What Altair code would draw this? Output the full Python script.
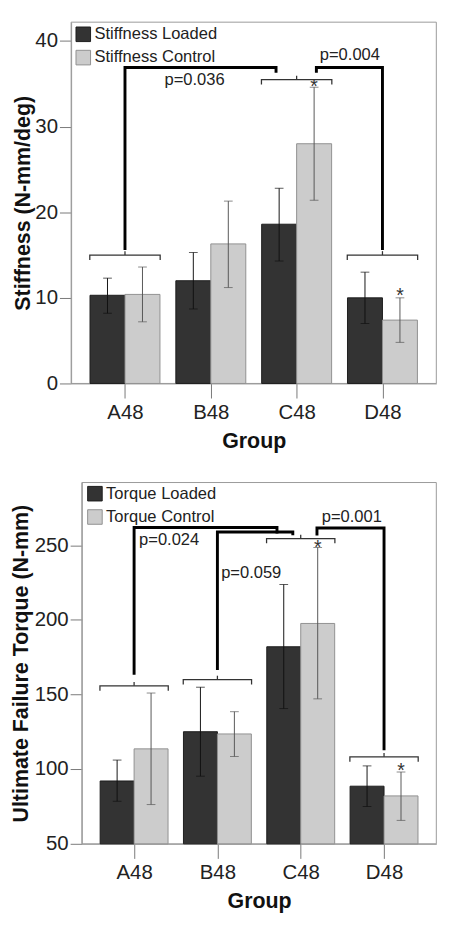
import altair as alt
import pandas as pd

groups = ["A48", "B48", "C48", "D48"]

# ---- Stiffness panel values ----
stiff_series = ["Stiffness Loaded", "Stiffness Control"]
stiff_loaded = [10.3, 12.0, 18.6, 10.0]
stiff_loaded_hi = [12.3, 15.3, 22.8, 13.0]
stiff_loaded_lo = [8.2, 8.7, 14.3, 7.0]
stiff_control = [10.4, 16.3, 28.0, 7.4]
stiff_control_hi = [13.6, 21.3, 34.6, 10.0]
stiff_control_lo = [7.2, 11.2, 21.4, 4.8]
stiff_yticks = [0, 10, 20, 30, 40]
stiff_ydomain = [0, 42.2]
# significance annotations (x in group-index units)
stiff_bracket_pos = [0, 2, 3]
stiff_bracket_y = [15.0, 35.5, 15.0]
stiff_link_from = [0, 3]
stiff_link_start = [15.6, 15.6]
stiff_link_top = [36.9, 36.9]
stiff_link_to = [1.76, 2.23]
stiff_link_end = [36.3, 36.3]
stiff_p_text = ["p=0.036", "p=0.004"]
stiff_p_x = [0.46, 2.27]
stiff_p_y = [35.4, 38.3]
stiff_star_pos = [2, 3]
stiff_star_y = [35.2, 10.8]

# ---- Torque panel values ----
torque_series = ["Torque Loaded", "Torque Control"]
torque_loaded = [92.1, 125.1, 182.0, 88.6]
torque_loaded_hi = [106.1, 154.9, 223.7, 102.2]
torque_loaded_lo = [78.5, 95.3, 140.6, 75.0]
torque_control = [113.6, 123.6, 197.6, 82.1]
torque_control_hi = [151.0, 138.5, 248.5, 98.1]
torque_control_lo = [76.3, 108.5, 147.1, 65.7]
torque_yticks = [50, 100, 150, 200, 250]
torque_ydomain = [50, 292]
torque_bracket_pos = [0, 1, 2, 3]
torque_bracket_y = [155.8, 160.0, 254.5, 108.3]
torque_link_from = [0, 1, 3]
torque_link_start = [163.3, 166.5, 112.6]
torque_link_top = [261.9, 258.9, 261.5]
torque_link_to = [1.715, 1.905, 2.195]
torque_link_end = [257.8, 256.7, 256.5]
torque_p_text = ["p=0.024", "p=0.059", "p=0.001"]
torque_p_x = [0.06, 1.045, 2.253]
torque_p_y = [253.5, 231.2, 268.9]
torque_star_pos = [2, 3]
torque_star_y = [251.3, 101.8]

# ---- layout / style ----
PI = 0.185          # gap between groups (fraction of step)
PO = 0.22           # outer padding (fraction of step)
BW = (1 - PI) / 2   # width of one bar (fraction of step)
HALF = 0.41         # half-width of significance brackets
FONT = "Liberation Sans"
FRAME = "#999999"
X_CENTER = PO + (1 - PI) / 2
X_TOTAL = len(groups) - PI + 2 * PO
X_DOMAIN = [-X_CENTER, X_TOTAL - X_CENTER]
label_expr = "[" + ",".join(f"'{g}'" for g in groups) + "][datum.value]"


def panel(series, loaded, lhi, llo, control, chi, clo, ydom, yticks, ytitle, ytitle_pad,
          br_pos, br_y, lk_from, lk_start, lk_top, lk_to, lk_end,
          p_text, p_x, p_y, star_pos, star_y, width, height, extend_left, leg_x, leg_y):
    rows = []
    for si, (s, vals, his, los) in enumerate([(series[0], loaded, lhi, llo),
                                              (series[1], control, chi, clo)]):
        for gi, (v, h, l) in enumerate(zip(vals, his, los)):
            left = gi - BW + si * BW
            rows.append(dict(series=s, value=v, hi=h, lo=l,
                             left=left, right=left + BW, mid=left + BW / 2))
    df = pd.DataFrame(rows)
    upp = (ydom[1] - ydom[0]) / height

    thin = []
    pid = 0
    for g, yb in zip(br_pos, br_y):
        pts = [(g - HALF, yb - 5 * upp), (g - HALF, yb), (g + HALF, yb), (g + HALF, yb - 5 * upp)]
        for k, (xx, yy) in enumerate(pts):
            thin.append(dict(id=pid, k=k, x=xx, y=yy))
        pid += 1
        for k, (xx, yy) in enumerate([(g, yb), (g, yb + 4 * upp)]):
            thin.append(dict(id=pid, k=k, x=xx, y=yy))
        pid += 1
    thin_df = pd.DataFrame(thin)

    thick = []
    for i, (f, s0, t, to, e) in enumerate(zip(lk_from, lk_start, lk_top, lk_to, lk_end)):
        for k, (xx, yy) in enumerate([(f, s0), (f, t), (to, t), (to, e)]):
            thick.append(dict(id=i, k=k, x=xx, y=yy))
    thick_df = pd.DataFrame(thick)

    ptext_df = pd.DataFrame(dict(x=p_x, y=p_y, t=p_text))
    star_df = pd.DataFrame(dict(x=[p + BW / 2 for p in star_pos], y=star_y))

    yscale = alt.Scale(domain=ydom, nice=False, zero=False)
    xscale = alt.Scale(domain=X_DOMAIN, nice=False, zero=False, range=[-extend_left, width])
    yaxis = alt.Axis(values=yticks, grid=False, tickSize=12, labelPadding=2, offset=extend_left,
                     labelFontSize=21, labelColor="#222", tickColor="#777",
                     domainColor=FRAME, titleFontSize=22, titleFontWeight="bold",
                     titleColor="#111", titlePadding=ytitle_pad)
    xaxis = alt.Axis(values=list(range(len(groups))), labelExpr=label_expr, grid=False,
                     tickSize=15, labelPadding=4, labelFontSize=21, labelColor="#222",
                     tickColor="#777", domainColor=FRAME, titleFontSize=22,
                     titleFontWeight="bold", titleColor="#111", titlePadding=9)

    def X(f, axis=None, title=None):
        return alt.X(f, scale=xscale, axis=axis, title=title)

    def Y(f, axis=None, title=None):
        return alt.Y(f, scale=yscale, axis=axis, title=title)

    leg = alt.Legend(title=None, orient="none", legendX=leg_x, legendY=leg_y, padding=0,
                     symbolType="square", symbolSize=225, symbolStrokeWidth=1,
                     labelFontSize=17, labelColor="#222", labelOffset=3,
                     rowPadding=5, labelFont=FONT)

    # plot frame spanning the full scale domains
    frame = alt.Chart(pd.DataFrame({"x0": [X_DOMAIN[0]], "x1": [X_DOMAIN[1]],
                                    "y0": [ydom[0]], "y1": [ydom[1]]})).mark_rect(
        filled=False, stroke=FRAME, strokeWidth=1).encode(
        x=X("x0:Q"), x2="x1:Q", y=Y("y0:Q"), y2="y1:Q")

    base = alt.Chart(df)
    bars = base.mark_bar(strokeWidth=1).encode(
        x=X("left:Q", xaxis, "Group"), x2="right:Q",
        y=Y("value:Q", yaxis, ytitle), y2=alt.datum(ydom[0]),
        fill=alt.Fill("series:N", scale=alt.Scale(domain=series, range=["#333333", "#cccccc"]), legend=leg),
        stroke=alt.Stroke("series:N", scale=alt.Scale(domain=series, range=["#1c1c1c", "#8f8f8f"]), legend=leg),
    )
    layers = [frame, bars]
    for s, col in [(series[0], "#111111"), (series[1], "#555555")]:
        sub = base.transform_filter(alt.datum.series == s)
        layers.append(sub.mark_rule(color=col, strokeWidth=1).encode(
            x=X("mid:Q"), y=Y("lo:Q"), y2="hi:Q"))
        for fld in ["lo", "hi"]:
            layers.append(sub.mark_tick(color=col, size=9, thickness=1, orient="horizontal").encode(
                x=X("mid:Q"), y=Y(f"{fld}:Q")))
    layers.append(alt.Chart(star_df).mark_text(text="*", fontSize=20, color="#333", dy=5, font=FONT).encode(
        x=X("x:Q"), y=Y("y:Q")))
    layers.append(alt.Chart(thin_df).mark_line(color="#333", strokeWidth=1.3).encode(
        x=X("x:Q"), y=Y("y:Q"), detail="id:N", order="k:Q"))
    layers.append(alt.Chart(thick_df).mark_line(color="#000", strokeWidth=3, strokeJoin="miter").encode(
        x=X("x:Q"), y=Y("y:Q"), detail="id:N", order="k:Q"))
    layers.append(alt.Chart(ptext_df).mark_text(align="left", baseline="middle", fontSize=17,
                                                color="#222", font=FONT).encode(
        x=X("x:Q"), y=Y("y:Q"), text="t:N"))
    return alt.layer(*layers).resolve_axis(x="independent", y="independent").properties(
        width=width, height=height, view=alt.ViewConfig(stroke=None))


top = panel(stiff_series, stiff_loaded, stiff_loaded_hi, stiff_loaded_lo,
            stiff_control, stiff_control_hi, stiff_control_lo,
            stiff_ydomain, stiff_yticks, "Stiffness (N-mm/deg)", 0,
            stiff_bracket_pos, stiff_bracket_y, stiff_link_from, stiff_link_start,
            stiff_link_top, stiff_link_to, stiff_link_end,
            stiff_p_text, stiff_p_x, stiff_p_y, stiff_star_pos, stiff_star_y,
            365, 372, 11, -7, 4)

bottom = panel(torque_series, torque_loaded, torque_loaded_hi, torque_loaded_lo,
               torque_control, torque_control_hi, torque_control_lo,
               torque_ydomain, torque_yticks, "Ultimate Failure Torque (N-mm)", 2,
               torque_bracket_pos, torque_bracket_y, torque_link_from, torque_link_start,
               torque_link_top, torque_link_to, torque_link_end,
               torque_p_text, torque_p_x, torque_p_y, torque_star_pos, torque_star_y,
               365, 372, 0, 5, 3)

chart = alt.vconcat(top, bottom, spacing=31).resolve_scale(
    fill="independent", stroke="independent"
).properties(
    padding={"left": 1, "top": 0, "right": 0, "bottom": 0}
).configure(font=FONT).configure_view(stroke=None)

chart.save("out.html", embed_options={"renderer": "svg", "actions": False})
